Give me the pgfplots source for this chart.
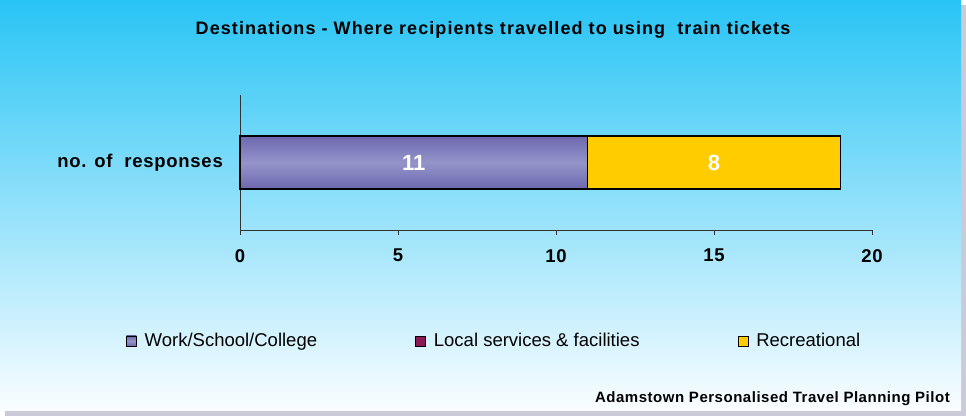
\documentclass[border=0pt]{standalone}
\usepackage{pgfplots}
\pgfplotsset{compat=1.18}
\usepackage{fontspec}
\setmainfont{Liberation Sans}
\definecolor{topc}{HTML}{28C4F5}
\definecolor{botc}{HTML}{FAFDFF}
\definecolor{shadowc}{HTML}{CACAD8}
\definecolor{workc}{HTML}{8C8CC8}
\definecolor{workd}{HTML}{6C68AE}
\definecolor{workl}{HTML}{9494CA}
\definecolor{localc}{HTML}{8A1A52}
\definecolor{recc}{HTML}{FFCC00}
\begin{document}
\begin{tikzpicture}[x=1pt,y=1pt]
\fill[shadowc] (5,0) rectangle (966,411);
\shade[top color=topc, bottom color=botc] (0,6) rectangle (961,416);
\node[anchor=base, inner sep=0pt, font=\bfseries\fontsize{18}{20}\selectfont\addfontfeature{LetterSpace=6}] at (493,381) {Destinations - Where recipients travelled to using\ \ train tickets};
\node[anchor=base east, inner sep=0pt, font=\bfseries\fontsize{15}{18}\selectfont\addfontfeature{LetterSpace=3.5}] at (950,14) {Adamstown Personalised Travel Planning Pilot};
\begin{axis}[
  at={(240pt,186pt)}, anchor=south west,
  scale only axis, width=632pt, height=135pt,
  xmin=0, xmax=20, ymin=-1, ymax=1,
  xbar stacked, bar width=53pt,
  axis x line*=bottom, axis y line*=left,
  axis line style={draw=black!80, line width=0.8pt},
  xtick={0,5,10,15,20},
  tick align=outside, major tick length=5pt,
  xtick style={draw=black!80, line width=0.8pt},
  ytick={0}, yticklabels={no. of\ \ responses},
  ytick style={draw=none},
  xticklabel style={anchor=north, inner sep=0pt, yshift=-14pt, font=\bfseries\fontsize{18.5}{20}\selectfont\addfontfeature{LetterSpace=3}},
  yticklabel style={anchor=east, inner sep=0pt, xshift=-12pt, font=\bfseries\fontsize{18.5}{20}\selectfont\addfontfeature{LetterSpace=4}},
  /pgf/number format/assume math mode=true,
  sq legend/.style={legend image code/.code={\draw[##1, line width=0.8pt] (0pt,-5pt) rectangle (10pt,5pt);}},
  legend columns=3,
  legend style={at={(0.402,-0.822)}, anchor=center, draw=none, fill=none,
    font=\fontsize{18.5}{20}\selectfont,
    /tikz/every odd column/.append style={column sep=6pt},
    /tikz/every even column/.append style={column sep=96pt}},
  clip=false,
]
\addplot[draw=black, line width=1.2pt, top color=workd, bottom color=workd, middle color=workl, sq legend] coordinates {(11,0)};
\addlegendentry{Work/School/College}
\addlegendimage{fill=localc, draw=black, sq legend}
\addlegendentry{Local services \& facilities}
\addplot[draw=black, line width=1.2pt, fill=recc, sq legend] coordinates {(8,0)};
\addlegendentry{Recreational}
\coordinate (l1) at (axis cs:5.5,0);
\coordinate (l2) at (axis cs:15,0);
\end{axis}
\node[white, font=\bfseries\fontsize{22}{24}\selectfont] at (l1) {11};
\node[white, font=\bfseries\fontsize{22}{24}\selectfont] at (l2) {8};
\end{tikzpicture}
\end{document}
